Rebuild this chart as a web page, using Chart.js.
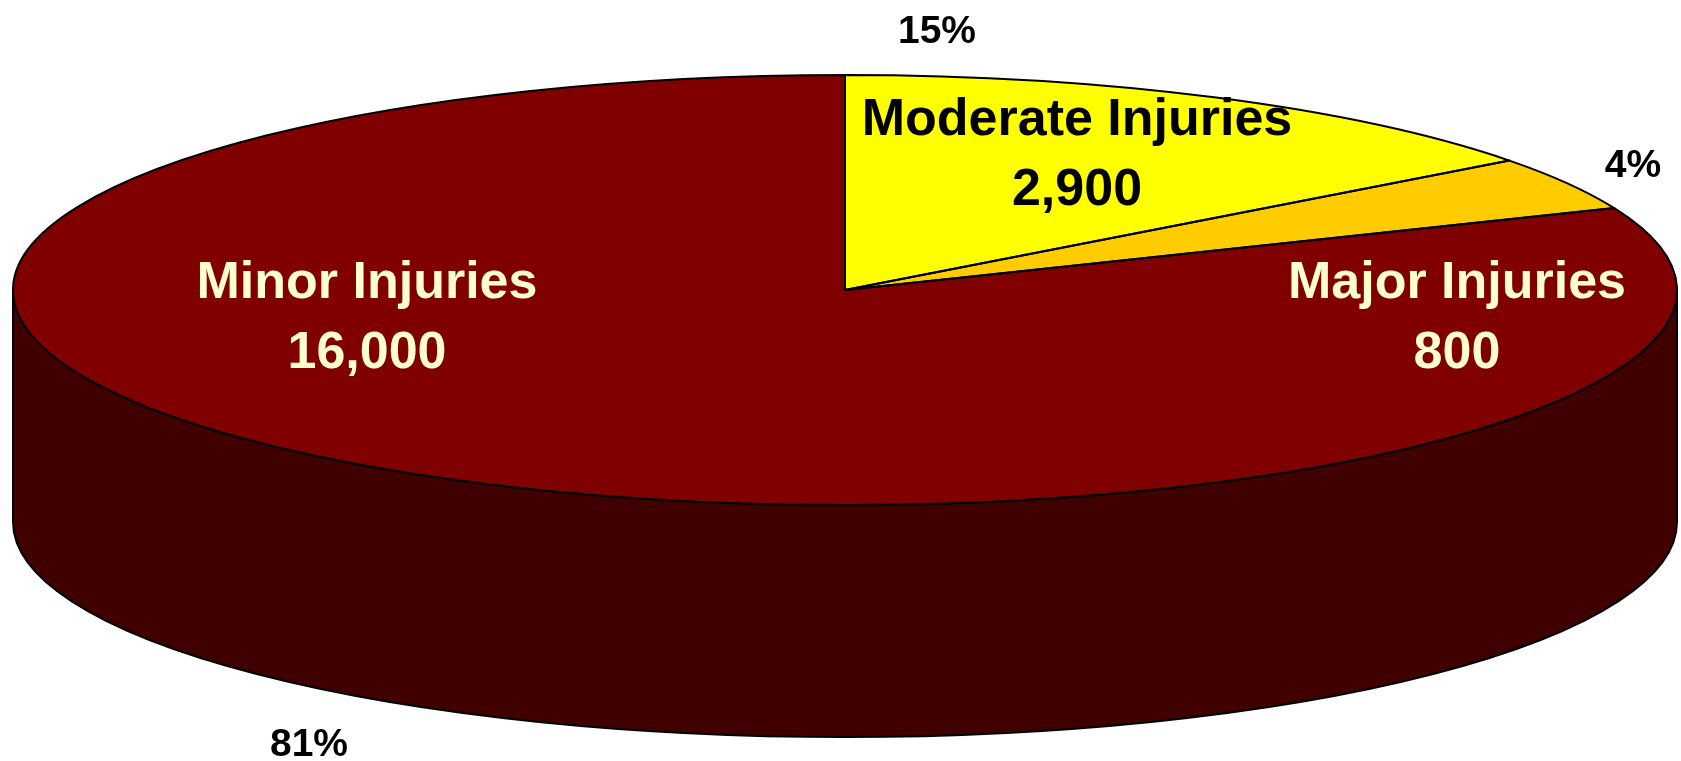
<!DOCTYPE html>
<html>
<head>
<meta charset="utf-8">
<title>Injuries</title>
<script src="https://cdn.jsdelivr.net/npm/chart.js@4/dist/chart.umd.min.js"></script>
<style>
    html, body { margin: 0; padding: 0; background: #ffffff; }
    #wrap { position: relative; width: 1681px; height: 761px; }
</style>
</head>
<body>
<div id="wrap"><canvas id="pie"></canvas></div>
<script>
// Slice data, clockwise from 12 o'clock
const categories = ['Moderate Injuries', 'Major Injuries', 'Minor Injuries'];
const injuries = [2900, 800, 16000];
const sliceColors = ['#FFFF00', '#FFCC00', '#800000'];
const nameColors = ['#000000', '#FFFFCC', '#FFFFCC'];

// Ellipse geometry of the tilted pie (top face) and its thickness
const CX = 845, CY = 290, RX = 832, RY = 215, DEPTH = 232;

// Where the name/value and percent labels sit
const nameAnchors = [[1077, 135], [1457, 298], [367, 298]];
const pctAnchors = [[937, 43], [1633, 177], [309, 756]];

const FONT = '"Liberation Sans", Arial, sans-serif';

function darken(hex) {
    let n = parseInt(hex.slice(1), 16);
    let r = (n >> 16) >> 1, g = ((n >> 8) & 255) >> 1, b = (n & 255) >> 1;
    return 'rgb(' + r + ',' + g + ',' + b + ')';
}

// Map the library's circle onto the flattened ellipse
function squash(ctx, arc) {
    ctx.translate(CX, CY);
    ctx.scale(RX / arc.outerRadius, RY / arc.outerRadius);
    ctx.translate(-arc.x, -arc.y);
}

// Parts of an angle range that face the viewer (lower half of the rim)
function frontSpans(s, e) {
    let spans = [];
    for (let k = -1; k <= 1; k++) {
        let a = Math.max(s, 2 * Math.PI * k);
        let b = Math.min(e, Math.PI + 2 * Math.PI * k);
        if (b > a) spans.push([a, b]);
    }
    return spans;
}

const tiltPlugin = {
    id: 'tilt',
    beforeDatasetsDraw(chart) {
        let ctx = chart.ctx;
        let arcs = chart.getDatasetMeta(0).data;
        ctx.save();
        ctx.lineWidth = 2;
        ctx.strokeStyle = '#000000';
        ctx.lineJoin = 'round';
        arcs.forEach((arc, i) => {
            frontSpans(arc.startAngle, arc.endAngle).forEach(([a, b]) => {
                ctx.beginPath();
                ctx.ellipse(CX, CY, RX, RY, 0, a, b);
                ctx.ellipse(CX, CY + DEPTH, RX, RY, 0, b, a, true);
                ctx.closePath();
                ctx.fillStyle = darken(sliceColors[i]);
                ctx.fill();
                ctx.stroke();
            });
        });
        ctx.restore();

        // the pie itself is drawn by Chart.js under this transform
        ctx.save();
        squash(ctx, arcs[0]);
    },
    afterDatasetsDraw(chart) {
        let ctx = chart.ctx;
        ctx.restore();

        // slice outlines with an even line width
        let arcs = chart.getDatasetMeta(0).data;
        ctx.save();
        ctx.lineWidth = 2;
        ctx.strokeStyle = '#000000';
        ctx.lineJoin = 'round';
        arcs.forEach(arc => {
            ctx.save();
            squash(ctx, arc);
            ctx.beginPath();
            ctx.moveTo(arc.x, arc.y);
            ctx.arc(arc.x, arc.y, arc.outerRadius, arc.startAngle, arc.endAngle);
            ctx.closePath();
            ctx.restore();
            ctx.stroke();
        });
        ctx.restore();
    },
    afterDraw(chart) {
        let ctx = chart.ctx;
        let total = injuries.reduce((s, v) => s + v, 0);
        ctx.save();
        ctx.textAlign = 'center';
        ctx.textBaseline = 'alphabetic';
        categories.forEach((name, i) => {
            let [x, y] = nameAnchors[i];
            ctx.font = 'bold 52px ' + FONT;
            ctx.fillStyle = nameColors[i];
            ctx.fillText(name, x, y);
            ctx.fillText(injuries[i].toLocaleString('en-US'), x, y + 70);

            let [px, py] = pctAnchors[i];
            ctx.font = 'bold 39px ' + FONT;
            ctx.fillStyle = '#000000';
            ctx.fillText(Math.round(injuries[i] / total * 100) + '%', px, py);
        });
        ctx.restore();
    }
};

new Chart(document.getElementById('pie'), {
    type: 'pie',
    data: {
        labels: categories,
        datasets: [{
            data: injuries,
            backgroundColor: sliceColors,
            borderWidth: 0,
            clip: false
        }]
    },
    options: {
        responsive: true,
        maintainAspectRatio: false,
        animation: false,
        events: [],
        layout: { padding: 0 },
        plugins: {
            legend: { display: false },
            tooltip: { enabled: false }
        }
    },
    plugins: [tiltPlugin]
});
</script>
</body>
</html>
